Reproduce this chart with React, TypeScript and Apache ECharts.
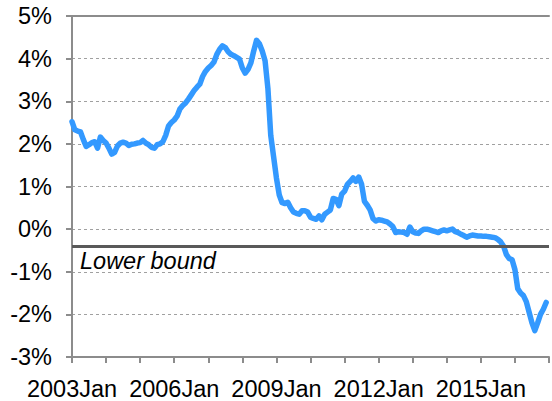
import React, { useEffect, useRef } from "react";
import * as echarts from "echarts";

// Monthly values (%), starting 2003 Jan
const startYear = 2003;
const values: number[] = [
  // 2003
  2.52, 2.33, 2.30, 2.28, 2.10, 1.94, 1.98, 2.03, 2.05, 1.90, 2.16, 2.08,
  // 2004
  2.02, 1.90, 1.76, 1.80, 1.95, 2.02, 2.04, 2.02, 1.96, 1.99, 2.00, 2.02,
  // 2005
  2.03, 2.08, 2.02, 1.98, 1.92, 1.90, 1.98, 2.00, 2.05, 2.20, 2.42, 2.50,
  // 2006
  2.56, 2.65, 2.82, 2.90, 2.96, 3.05, 3.15, 3.25, 3.33, 3.40, 3.58, 3.70,
  // 2007
  3.78, 3.84, 3.92, 4.10, 4.22, 4.30, 4.26, 4.16, 4.10, 4.07, 4.03, 3.99,
  // 2008
  3.78, 3.66, 3.75, 3.90, 4.18, 4.43, 4.35, 4.18, 3.95, 3.30, 2.20, 1.70,
  // 2009
  1.20, 0.80, 0.62, 0.60, 0.63, 0.50, 0.40, 0.37, 0.35, 0.43, 0.43, 0.40,
  // 2010
  0.28, 0.25, 0.23, 0.31, 0.22, 0.35, 0.40, 0.45, 0.72, 0.70, 0.55, 0.82,
  // 2011
  0.89, 1.05, 1.12, 1.20, 1.12, 1.22, 1.05, 0.65, 0.56, 0.45, 0.25, 0.19,
  // 2012
  0.22, 0.21, 0.19, 0.17, 0.12, 0.06, -0.08, -0.06, -0.07, -0.08, -0.12, 0.05,
  // 2013
  -0.06, -0.09, -0.10, -0.04, 0.00, 0.00, -0.02, -0.04, -0.06, -0.08, -0.04, -0.02,
  // 2014
  -0.04, -0.02, 0.00, -0.06, -0.08, -0.12, -0.15, -0.19, -0.16, -0.14, -0.15, -0.16,
  // 2015
  -0.16, -0.17, -0.17, -0.18, -0.19, -0.20, -0.24, -0.30, -0.40, -0.60, -0.69, -0.72,
  // 2016
  -0.95, -1.40, -1.50, -1.56, -1.70, -1.95, -2.20, -2.38, -2.20, -2.00, -1.88, -1.72,
];

const lowerBound = -0.4;
const lowerBoundLabel = "Lower bound";
const yTicks = [-3, -2, -1, 0, 1, 2, 3, 4, 5];

export default function App() {
  const ref = useRef<HTMLDivElement>(null);
  useEffect(() => {
    document.body.style.margin = "0";
    const chart = echarts.init(ref.current!, null, { renderer: "svg" });
    const font = "Arial, 'Liberation Sans', sans-serif";
    const axisGrey = "#8c8c8c";
    const nMonths = 168;
    chart.setOption({
      animation: false,
      backgroundColor: "#ffffff",
      grid: { left: 72, right: 1, top: 16, bottom: 43, containLabel: false },
      xAxis: [
        {
          type: "value",
          min: 0,
          max: nMonths,
          interval: 12,
          axisLine: { show: true, onZero: false, lineStyle: { color: axisGrey, width: 2 } },
          axisTick: { show: true, length: 6, lineStyle: { color: axisGrey, width: 2 } },
          splitLine: { show: false },
          axisLabel: {
            margin: 20,
            color: "#000",
            fontSize: 23.5,
            fontFamily: font,
            showMinLabel: true,
            showMaxLabel: true,
            formatter: (v: number) => (v % 36 === 0 ? `${startYear + v / 12}Jan` : ""),
          },
        },
        {
          type: "value",
          position: "top",
          min: 0,
          max: nMonths,
          interval: 12,
          axisLine: { show: true, onZero: false, lineStyle: { color: axisGrey, width: 2 } },
          axisTick: { show: false },
          axisLabel: { show: false },
          splitLine: { show: false },
        },
      ],
      yAxis: {
        type: "value",
        min: yTicks[0],
        max: yTicks[yTicks.length - 1],
        interval: 1,
        axisLine: { show: true, onZero: false, lineStyle: { color: axisGrey, width: 2 } },
        axisTick: { show: true, length: 6, lineStyle: { color: axisGrey, width: 2 } },
        splitLine: { show: true, lineStyle: { color: "#a0a0a0", width: 1, type: [3, 3] } },
        axisLabel: {
          margin: 20,
          color: "#000",
          fontSize: 23.5,
          fontFamily: font,
          formatter: (v: number) => `${v}%`,
        },
      },
      series: [
        {
          type: "line",
          xAxisIndex: 0,
          data: values.map((v, i) => [i, v]),
          symbol: "none",
          smooth: false,
          lineStyle: { color: "#3399ff", width: 5.5, cap: "round", join: "round" },
          markLine: {
            silent: true,
            symbol: ["none", "none"],
            label: { show: false },
            lineStyle: { color: "#595959", width: 3, type: "solid" },
            data: [{ yAxis: lowerBound }],
          },
          z: 3,
        },
      ],
      graphic: [
        {
          type: "text",
          left: 80,
          top: 249,
          style: {
            text: lowerBoundLabel,
            fontSize: 23.5,
            fontStyle: "italic",
            fontFamily: font,
            fill: "#000",
          },
        },
      ],
    });
    return () => chart.dispose();
  }, []);
  return (
    <div
      ref={ref}
      style={{ position: "fixed", left: 0, top: 0, width: 552, height: 401 }}
    />
  );
}
